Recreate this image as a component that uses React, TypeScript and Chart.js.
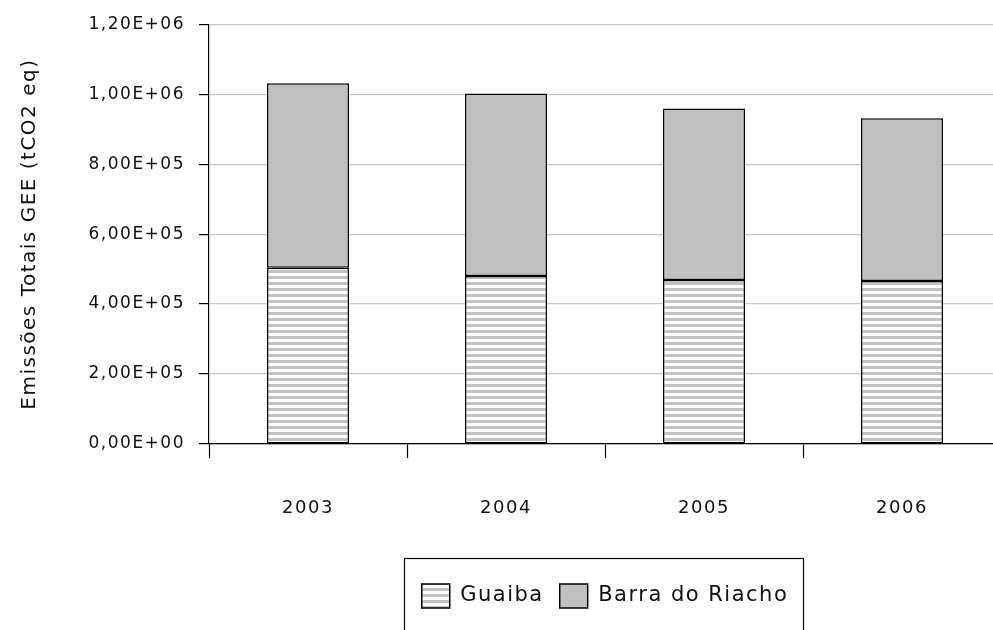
import { useEffect, useRef } from 'react';
import { Chart, registerables } from 'chart.js';

Chart.register(...registerables);

const years = ['2003', '2004', '2005', '2006'];
const guaiba = [504000, 480000, 469000, 466000];
const barraDoRiacho = [527000, 522000, 490000, 465000];
const yTickLabels = ['0,00E+00', '2,00E+05', '4,00E+05', '6,00E+05', '8,00E+05', '1,00E+06', '1,20E+06'];
const yTitle = 'Emissões Totais GEE (tCO2 eq)';
const seriesNames = ['Guaiba', 'Barra do Riacho'];

const FONT = '"DejaVu Sans", sans-serif';

function stripePattern(): CanvasPattern | string {
  const c = document.createElement('canvas');
  c.width = 8;
  c.height = 6;
  const g = c.getContext('2d');
  if (!g) return '#ddd';
  g.fillStyle = '#ffffff';
  g.fillRect(0, 0, 8, 6);
  g.fillStyle = '#c2c2c2';
  g.fillRect(0, 0, 8, 3);
  return g.createPattern(c, 'repeat') || '#ddd';
}

const spacingPlugin = {
  id: 'spacing',
  beforeUpdate(chart: any) {
    chart.ctx.letterSpacing = '1.5px';
  },
  beforeDraw(chart: any) {
    chart.ctx.letterSpacing = '1.5px';
  },
};

const legendPlugin = {
  id: 'legendFrame',
  afterLayout(chart: any) {
    const lg = chart.legend;
    if (!lg) return;
    const ca = chart.chartArea;
    const shift = (ca.left + ca.right) / 2 - (lg.left + lg.right) / 2;
    lg.left += shift;
    lg.right += shift;
  },
  afterDraw(chart: any) {
    const lg = chart.legend;
    if (!lg || !lg.legendHitBoxes || !lg.legendHitBoxes.length) return;
    const hb = lg.legendHitBoxes;
    const first = hb[0];
    const last = hb[hb.length - 1];
    const ctx = chart.ctx;
    const left = first.left - 18;
    const right = last.left + last.width + 14;
    const top = first.top - 26;
    const bottom = first.top + first.height + 40;
    ctx.save();
    ctx.strokeStyle = '#000';
    ctx.lineWidth = 1.2;
    ctx.strokeRect(Math.round(left) + 0.5, Math.round(top) + 0.5, Math.round(right - left), Math.round(bottom - top));
    ctx.restore();
  },
};

export default function App() {
  const ref = useRef<HTMLCanvasElement | null>(null);

  useEffect(() => {
    if (!ref.current) return;
    const pattern = stripePattern();
    const chart = new Chart(ref.current, {
      type: 'bar',
      data: {
        labels: years,
        datasets: [
          {
            label: seriesNames[0],
            data: guaiba,
            backgroundColor: pattern as any,
            borderColor: '#000',
            borderWidth: 1.5,
            borderSkipped: false,
          },
          {
            label: seriesNames[1],
            data: barraDoRiacho,
            backgroundColor: '#c0c0c0',
            borderColor: '#000',
            borderWidth: 1.5,
            borderSkipped: false,
          },
        ],
      },
      options: {
        animation: false,
        responsive: false,
        maintainAspectRatio: false,
        layout: { padding: { top: 23, right: 9, left: 0, bottom: 42 } },
        datasets: { bar: { barPercentage: 0.414, categoryPercentage: 1 } },
        plugins: {
          tooltip: { enabled: false },
          legend: {
            position: 'bottom',
            labels: {
              color: '#111',
              font: { family: FONT, size: 21 },
              boxWidth: 28,
              boxHeight: 24,
              padding: 16,
            },
          },
        },
        scales: {
          x: {
            stacked: true,
            afterFit: (s: any) => {
              s.height = 124;
            },
            grid: {
              drawOnChartArea: false,
              drawTicks: true,
              tickLength: 14,
              tickColor: '#000',
              tickWidth: 1.2,
            },
            border: { color: '#000', width: 1.2 },
            ticks: {
              color: '#111',
              font: { family: FONT, size: 18 },
              padding: 40,
              maxRotation: 0,
            },
          },
          y: {
            stacked: true,
            min: 0,
            max: 1200000,
            afterFit: (s: any) => {
              s.width = 209;
            },
            grid: {
              color: '#c8c8c8',
              lineWidth: 1.2,
              tickLength: 10,
              tickColor: '#000',
              tickWidth: 1.2,
            },
            border: { color: '#000', width: 1.2 },
            ticks: {
              stepSize: 200000,
              color: '#111',
              font: { family: FONT, size: 17 },
              padding: 14,
              callback: (_v: any, i: number) => yTickLabels[i],
            },
            title: {
              display: true,
              text: yTitle,
              color: '#111',
              font: { family: FONT, size: 20 },
              padding: { top: 18, bottom: 0 },
            },
          },
        },
      },
      plugins: [spacingPlugin, legendPlugin],
    } as any);
    return () => chart.destroy();
  }, []);

  return (
    <div style={{ position: 'fixed', left: 0, top: 0, width: 993, height: 630, overflow: 'hidden', background: '#fff' }}>
      <canvas ref={ref} width={1010} height={660} style={{ display: 'block', width: 1010, height: 660 }} />
    </div>
  );
}
